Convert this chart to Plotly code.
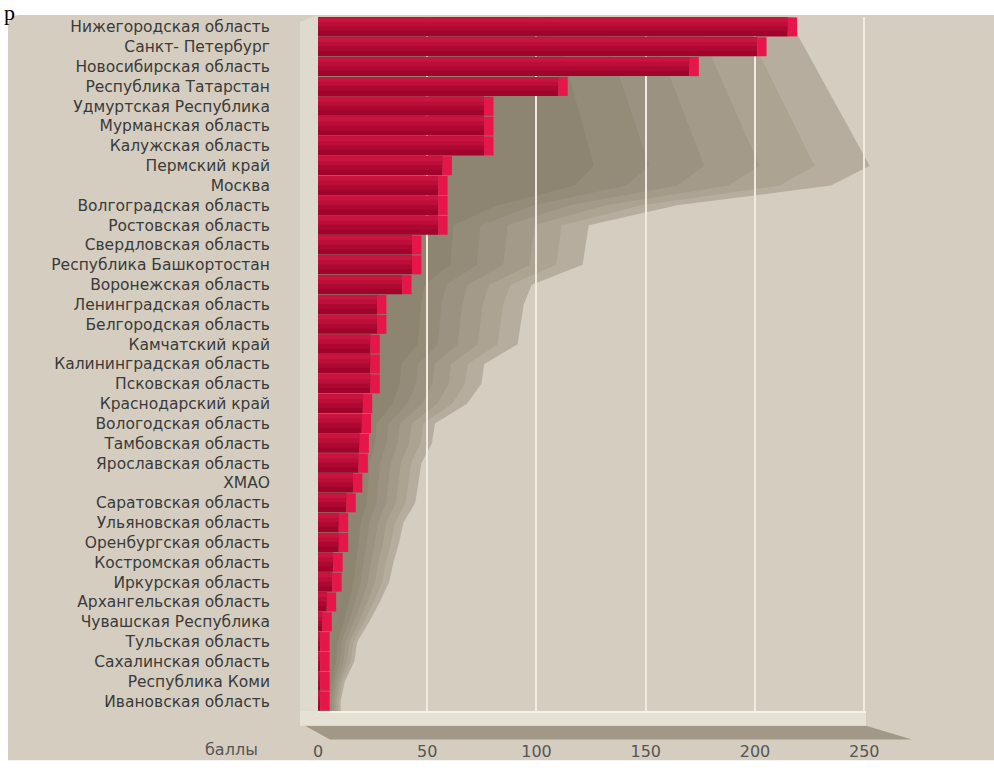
import plotly.graph_objects as go

regions = [
    "Нижегородская область", "Санкт- Петербург", "Новосибирская область",
    "Республика Татарстан", "Удмуртская Республика", "Мурманская область",
    "Калужская область", "Пермский край", "Москва", "Волгоградская область",
    "Ростовская область", "Свердловская область", "Республика Башкортостан",
    "Воронежская область", "Ленинградская область", "Белгородская область",
    "Камчатский край", "Калининградская область", "Псковская область",
    "Краснодарский край", "Вологодская область", "Тамбовская область",
    "Ярославская область", "ХМАО", "Саратовская область", "Ульяновская область",
    "Оренбургская область", "Костромская область", "Иркурская область",
    "Архангельская область", "Чувашская Республика", "Тульская область",
    "Сахалинская область", "Республика Коми", "Ивановская область",
]
scores = [215, 201, 170, 110, 76, 76, 76, 57, 55, 55, 55, 43, 43, 38.5, 27, 27,
          24, 24, 24, 20.5, 20, 19, 18.5, 16, 13, 9.5, 9.5, 7, 6.5, 4, 2, 1, 1, 1, 1]
tick_values = [0, 50, 100, 150, 200, 250]
axis_title = "баллы"

n = len(regions)
L, T, B_M = 318, 17, 50
W_PX, H_PX = 994, 773
X_MAX = 265
PW = 579
PH = H_PX - T - B_M
R = W_PX - L - PW
FONT = "DejaVu Sans, Verdana, sans-serif"


def xp(px):
    return (px - L) / PW


def yp(py):
    return (H_PX - B_M - py) / PH


fig = go.Figure()

# bar faces (banded to mimic a vertical gradient)
bands = [(-0.48, 0.96, "#a1032c"), (-0.48, 0.7, "#ad0832"), (-0.48, 0.46, "#bb0e38"),
         (-0.48, 0.24, "#c8143f")]
for off, wd, col in bands:
    fig.add_trace(go.Bar(
        y=regions, x=scores, orientation="h", offset=off, width=wd,
        marker=dict(color=col, line=dict(width=0)), hoverinfo="skip", showlegend=False))
# bright 3D side of each bar
fig.add_trace(go.Bar(
    y=regions, x=[4.3] * n, base=scores, orientation="h", offset=-0.48, width=0.96,
    marker=dict(color="#e6164a", line=dict(width=0)), hoverinfo="skip", showlegend=False))

shapes = []
# beige panel
shapes.append(dict(type="path", xref="paper", yref="paper", layer="below",
                   path=f"M {xp(8)},{yp(773)} L {xp(8)},{yp(27)} Q {xp(8)},{yp(15)} {xp(20)},{yp(15)} "
                        f"L {xp(994)},{yp(15)} L {xp(994)},{yp(773)} Z",
                   fillcolor="#d5cec0", line=dict(width=0)))

# soft drop shadow derived from the bar values (shifted down, stretched right)
K_SHIFT = 6
def shadow_extent(i):
    j = max(0, i - K_SHIFT)
    diag = scores[0] + 5.0 * (i + 0.5)
    return min(diag, scores[j] * 1.15 + 49.0 * (1 - i / n) + 1.5)

layers = [(1.0, 0.26), (0.9, 0.11), (0.8, 0.11), (0.7, 0.11), (0.6, 0.11), (0.5, 0.11)]
for f, a in layers:
    pts = [(shadow_extent(0) * f, -0.5)]
    for i in range(n):
        pts.append((shadow_extent(i) * f, i))
    pts.append((shadow_extent(n - 1) * f, n - 0.5))
    path = "M 0,-0.5 " + " ".join(f"L {x:.2f},{y:.2f}" for x, y in pts) + f" L 0,{n - 0.5} Z"
    shapes.append(dict(type="path", xref="x", yref="y", layer="below", path=path,
                       fillcolor=f"rgba(95,82,62,{a})", line=dict(width=0)))

# left wall
shapes.append(dict(type="path", xref="paper", yref="paper", layer="below",
                   path=f"M {xp(300)},{yp(738)} L {xp(300)},{yp(22)} L {xp(318)},{yp(15)} L {xp(318)},{yp(723)} Z",
                   fillcolor="#dedace", line=dict(width=0)))
# shadow under the floor
shapes.append(dict(type="path", xref="paper", yref="paper", layer="above",
                   path=f"M {xp(305)},{yp(738)} L {xp(866)},{yp(738)} L {xp(912)},{yp(752)} "
                        f"L {xp(330)},{yp(752)} Z",
                   fillcolor="rgba(120,108,88,0.55)", line=dict(width=0)))
# floor strip
shapes.append(dict(type="rect", xref="paper", yref="paper", layer="above",
                   x0=xp(300), x1=xp(866), y0=yp(738), y1=yp(723),
                   fillcolor="#e6e1d5", line=dict(width=0)))
shapes.append(dict(type="line", xref="paper", yref="paper", layer="above",
                   x0=xp(318), x1=xp(866), y0=yp(724), y1=yp(724),
                   line=dict(color="#f7f1e4", width=2)))

fig.update_layout(
    width=W_PX, height=H_PX,
    margin=dict(l=L, r=R, t=T, b=B_M),
    paper_bgcolor="white", plot_bgcolor="rgba(0,0,0,0)",
    barmode="overlay", bargap=0.04,
    shapes=shapes,
    font=dict(family=FONT),
    xaxis=dict(range=[0, X_MAX], tickvals=tick_values, ticktext=[str(v) for v in tick_values],
               showgrid=True, gridcolor="#f1ebdf", gridwidth=2, zeroline=False,
               showline=False, ticks="", ticklabelstandoff=29,
               tickfont=dict(size=16, color="#555555", family=FONT)),
    yaxis=dict(categoryorder="array", categoryarray=regions, range=[n - 0.5, -0.5],
               tickmode="linear", dtick=1, tick0=0,
               showgrid=False, zeroline=False, showline=False, ticks="",
               ticklabelstandoff=47,
               tickfont=dict(size=15.5, color="#3a3a3a", family=FONT)),
    annotations=[
        dict(text=axis_title, xref="paper", yref="paper", x=xp(231), y=yp(762),
             xanchor="center", yanchor="middle", showarrow=False,
             font=dict(size=16, color="#555555", family=FONT)),
        dict(text="р", xref="paper", yref="paper", x=xp(2), y=yp(-2),
             xanchor="left", yanchor="top", showarrow=False,
             font=dict(size=22, color="black", family="Liberation Serif, serif")),
    ],
)

fig.write_html("out.html", config={"displayModeBar": False},
               post_script="document.body.style.margin='0px';")
